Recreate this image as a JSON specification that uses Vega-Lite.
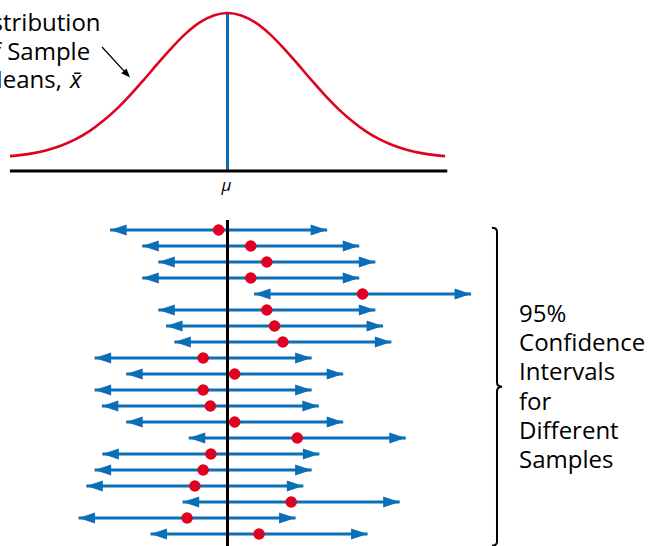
{
  "$schema": "https://vega.github.io/schema/vega-lite/v6.json",
  "width": 648,
  "height": 546,
  "padding": 0,
  "autosize": {"type": "none"},
  "background": "white",
  "config": {"view": {"stroke": null}, "font": "Open Sans"},
  "resolve": {"scale": {"y": "independent"}},
  "layer": [
    {
      "data": {"values": [{}]},
      "mark": {"type": "rule", "stroke": "#0b6fb8", "strokeWidth": 3},
      "encoding": {
        "x": {"datum": 0, "type": "quantitative", "scale": {"domain": [-4.1095, 7.5958], "nice": false, "zero": false}, "axis": null},
        "y": {"datum": -0.0859, "type": "quantitative", "scale": {"domain": [-2.6632, 1.0893], "nice": false, "zero": false}, "axis": null},
        "y2": {"datum": 1}
      }
    },
    {
      "data": {"values": [
        {"x": -3.93, "h": 0.016}, {"x": -3.75, "h": 0.023}, {"x": -3.5, "h": 0.037}, {"x": -3.25, "h": 0.059},
        {"x": -3.0, "h": 0.089}, {"x": -2.75, "h": 0.131}, {"x": -2.5, "h": 0.186}, {"x": -2.25, "h": 0.257},
        {"x": -2.0, "h": 0.341}, {"x": -1.75, "h": 0.439}, {"x": -1.5, "h": 0.546}, {"x": -1.25, "h": 0.657},
        {"x": -1.0, "h": 0.764}, {"x": -0.75, "h": 0.860}, {"x": -0.5, "h": 0.935}, {"x": -0.25, "h": 0.983},
        {"x": 0, "h": 1.0},
        {"x": 0.25, "h": 0.983}, {"x": 0.5, "h": 0.935}, {"x": 0.75, "h": 0.860}, {"x": 1.0, "h": 0.764},
        {"x": 1.25, "h": 0.657}, {"x": 1.5, "h": 0.546}, {"x": 1.75, "h": 0.439}, {"x": 2.0, "h": 0.341},
        {"x": 2.25, "h": 0.257}, {"x": 2.5, "h": 0.186}, {"x": 2.75, "h": 0.131}, {"x": 3.0, "h": 0.089},
        {"x": 3.25, "h": 0.059}, {"x": 3.5, "h": 0.037}, {"x": 3.75, "h": 0.023}, {"x": 3.93, "h": 0.016}
      ]},
      "mark": {"type": "line", "stroke": "#e0001f", "strokeWidth": 2.6, "interpolate": "monotone"},
      "encoding": {
        "x": {"field": "x", "type": "quantitative", "scale": {"domain": [-4.1095, 7.5958], "nice": false, "zero": false}, "axis": null},
        "y": {"field": "h", "type": "quantitative", "scale": {"domain": [-2.6632, 1.0893], "nice": false, "zero": false}, "axis": null}
      }
    },
    {
      "data": {"values": [{}]},
      "mark": {"type": "rule", "stroke": "black", "strokeWidth": 3},
      "encoding": {
        "x": {"datum": -3.93, "type": "quantitative", "scale": {"domain": [-4.1095, 7.5958], "nice": false, "zero": false}, "axis": null},
        "x2": {"datum": 3.97},
        "y": {"datum": -0.0859, "type": "quantitative", "scale": {"domain": [-2.6632, 1.0893], "nice": false, "zero": false}, "axis": null}
      }
    },
    {
      "data": {"values": [{}]},
      "mark": {"type": "text", "text": "μ", "fontStyle": "italic", "fontSize": 17, "align": "center", "baseline": "alphabetic", "color": "black"},
      "encoding": {
        "x": {"datum": -0.02, "type": "quantitative", "scale": {"domain": [-4.1095, 7.5958], "nice": false, "zero": false}, "axis": null},
        "y": {"datum": -0.2234, "type": "quantitative", "scale": {"domain": [-2.6632, 1.0893], "nice": false, "zero": false}, "axis": null}
      }
    },
    {
      "data": {"values": [{}]},
      "mark": {"type": "text", "text": ["Distribution", "of Sample"], "lineHeight": 29, "fontSize": 24, "align": "center", "baseline": "alphabetic", "color": "black"},
      "encoding": {
        "x": {"datum": -3.49, "type": "quantitative", "scale": {"domain": [-4.1095, 7.5958], "nice": false, "zero": false}, "axis": null},
        "y": {"datum": 0.8763, "type": "quantitative", "scale": {"domain": [-2.6632, 1.0893], "nice": false, "zero": false}, "axis": null}
      }
    },
    {
      "data": {"values": [{}]},
      "mark": {"type": "text", "text": "Means,", "fontSize": 24, "align": "right", "baseline": "alphabetic", "color": "black"},
      "encoding": {
        "x": {"datum": -2.99, "type": "quantitative", "scale": {"domain": [-4.1095, 7.5958], "nice": false, "zero": false}, "axis": null},
        "y": {"datum": 0.4845, "type": "quantitative", "scale": {"domain": [-2.6632, 1.0893], "nice": false, "zero": false}, "axis": null}
      }
    },
    {
      "data": {"values": [{}]},
      "mark": {"type": "text", "text": "x̄", "fontSize": 24, "fontStyle": "italic", "align": "left", "baseline": "alphabetic", "color": "black"},
      "encoding": {
        "x": {"datum": -2.845, "type": "quantitative", "scale": {"domain": [-4.1095, 7.5958], "nice": false, "zero": false}, "axis": null},
        "y": {"datum": 0.4845, "type": "quantitative", "scale": {"domain": [-2.6632, 1.0893], "nice": false, "zero": false}, "axis": null}
      }
    },
    {
      "data": {"values": [{}]},
      "mark": {"type": "rule", "stroke": "black", "strokeWidth": 1.3},
      "encoding": {
        "x": {"datum": -2.267, "type": "quantitative", "scale": {"domain": [-4.1095, 7.5958], "nice": false, "zero": false}, "axis": null},
        "x2": {"datum": -1.833},
        "y": {"datum": 0.7663, "type": "quantitative", "scale": {"domain": [-2.6632, 1.0893], "nice": false, "zero": false}, "axis": null},
        "y2": {"datum": 0.587}
      }
    },
    {
      "data": {"values": [{}]},
      "mark": {"type": "point", "shape": "M0,0L-1,-0.4L-1,0.4Z", "filled": true, "color": "black", "opacity": 1, "size": 324, "angle": 47.4},
      "encoding": {
        "x": {"datum": -1.761, "type": "quantitative", "scale": {"domain": [-4.1095, 7.5958], "nice": false, "zero": false}, "axis": null},
        "y": {"datum": 0.5567, "type": "quantitative", "scale": {"domain": [-2.6632, 1.0893], "nice": false, "zero": false}, "axis": null}
      }
    },
    {
      "data": {"name": "intervals"},
      "mark": {"type": "rule", "stroke": "#0b6fb8", "strokeWidth": 3},
      "encoding": {
        "x": {"field": "lo", "type": "quantitative", "scale": {"domain": [-4.1095, 7.5958], "nice": false, "zero": false}, "axis": null},
        "x2": {"field": "hi"},
        "y": {"field": "k", "type": "quantitative", "scale": {"domain": [-13.375, 20.75], "nice": false, "zero": false, "reverse": true}, "axis": null}
      }
    },
    {
      "data": {"name": "intervals"},
      "mark": {"type": "point", "shape": "M0,0L1,-0.33L1,0.33Z", "filled": true, "color": "#0b6fb8", "opacity": 1, "size": 1089},
      "encoding": {
        "x": {"field": "lo", "type": "quantitative", "scale": {"domain": [-4.1095, 7.5958], "nice": false, "zero": false}, "axis": null},
        "y": {"field": "k", "type": "quantitative", "scale": {"domain": [-13.375, 20.75], "nice": false, "zero": false, "reverse": true}, "axis": null}
      }
    },
    {
      "data": {"name": "intervals"},
      "mark": {"type": "point", "shape": "M0,0L-1,-0.33L-1,0.33Z", "filled": true, "color": "#0b6fb8", "opacity": 1, "size": 1089},
      "encoding": {
        "x": {"field": "hi", "type": "quantitative", "scale": {"domain": [-4.1095, 7.5958], "nice": false, "zero": false}, "axis": null},
        "y": {"field": "k", "type": "quantitative", "scale": {"domain": [-13.375, 20.75], "nice": false, "zero": false, "reverse": true}, "axis": null}
      }
    },
    {
      "data": {"values": [{}]},
      "mark": {"type": "rule", "stroke": "black", "strokeWidth": 3},
      "encoding": {
        "x": {"datum": 0, "type": "quantitative", "scale": {"domain": [-4.1095, 7.5958], "nice": false, "zero": false}, "axis": null},
        "y": {"datum": 0.375, "type": "quantitative", "scale": {"domain": [-13.375, 20.75], "nice": false, "zero": false, "reverse": true}, "axis": null},
        "y2": {"datum": 20.75}
      }
    },
    {
      "data": {"name": "intervals"},
      "mark": {"type": "point", "shape": "circle", "filled": true, "color": "#e0001f", "opacity": 1, "size": 135},
      "encoding": {
        "x": {"field": "m", "type": "quantitative", "scale": {"domain": [-4.1095, 7.5958], "nice": false, "zero": false}, "axis": null},
        "y": {"field": "k", "type": "quantitative", "scale": {"domain": [-13.375, 20.75], "nice": false, "zero": false, "reverse": true}, "axis": null}
      }
    },
    {
      "data": {"values": [{}]},
      "mark": {"type": "point", "shape": "M-0.032,-1C-0.01,-1,0,-0.995,0,-0.975L0,-0.03C0,-0.01,0.01,0,0.032,0C0.01,0,0,0.01,0,0.03L0,0.975C0,0.995,-0.01,1,-0.032,1", "filled": false, "stroke": "black", "strokeWidth": 2, "opacity": 1, "size": 101124},
      "encoding": {
        "x": {"datum": 4.868, "type": "quantitative", "scale": {"domain": [-4.1095, 7.5958], "nice": false, "zero": false}, "axis": null},
        "y": {"datum": 10.794, "type": "quantitative", "scale": {"domain": [-13.375, 20.75], "nice": false, "zero": false, "reverse": true}, "axis": null}
      }
    },
    {
      "data": {"values": [{}]},
      "mark": {"type": "text", "text": ["95%", "Confidence", "Intervals", "for", "Different", "Samples"], "lineHeight": 29.3, "fontSize": 24, "align": "left", "baseline": "alphabetic", "color": "black"},
      "encoding": {
        "x": {"datum": 5.266, "type": "quantitative", "scale": {"domain": [-4.1095, 7.5958], "nice": false, "zero": false}, "axis": null},
        "y": {"datum": 6.731, "type": "quantitative", "scale": {"domain": [-13.375, 20.75], "nice": false, "zero": false, "reverse": true}, "axis": null}
      }
    }
  ],
  "datasets": {
    "intervals": [
      {"k": 1, "m": -0.16, "lo": -2.12, "hi": 1.80},
      {"k": 2, "m": 0.42, "lo": -1.54, "hi": 2.38},
      {"k": 3, "m": 0.71, "lo": -1.25, "hi": 2.67},
      {"k": 4, "m": 0.42, "lo": -1.54, "hi": 2.38},
      {"k": 5, "m": 2.44, "lo": 0.48, "hi": 4.40},
      {"k": 6, "m": 0.71, "lo": -1.25, "hi": 2.67},
      {"k": 7, "m": 0.85, "lo": -1.11, "hi": 2.81},
      {"k": 8, "m": 1.00, "lo": -0.96, "hi": 2.96},
      {"k": 9, "m": -0.44, "lo": -2.40, "hi": 1.52},
      {"k": 10, "m": 0.13, "lo": -1.83, "hi": 2.09},
      {"k": 11, "m": -0.44, "lo": -2.40, "hi": 1.52},
      {"k": 12, "m": -0.31, "lo": -2.27, "hi": 1.65},
      {"k": 13, "m": 0.13, "lo": -1.83, "hi": 2.09},
      {"k": 14, "m": 1.26, "lo": -0.70, "hi": 3.22},
      {"k": 15, "m": -0.30, "lo": -2.26, "hi": 1.66},
      {"k": 16, "m": -0.44, "lo": -2.40, "hi": 1.52},
      {"k": 17, "m": -0.59, "lo": -2.55, "hi": 1.37},
      {"k": 18, "m": 1.15, "lo": -0.81, "hi": 3.11},
      {"k": 19, "m": -0.73, "lo": -2.69, "hi": 1.23},
      {"k": 20, "m": 0.57, "lo": -1.39, "hi": 2.53}
    ]
  }
}
